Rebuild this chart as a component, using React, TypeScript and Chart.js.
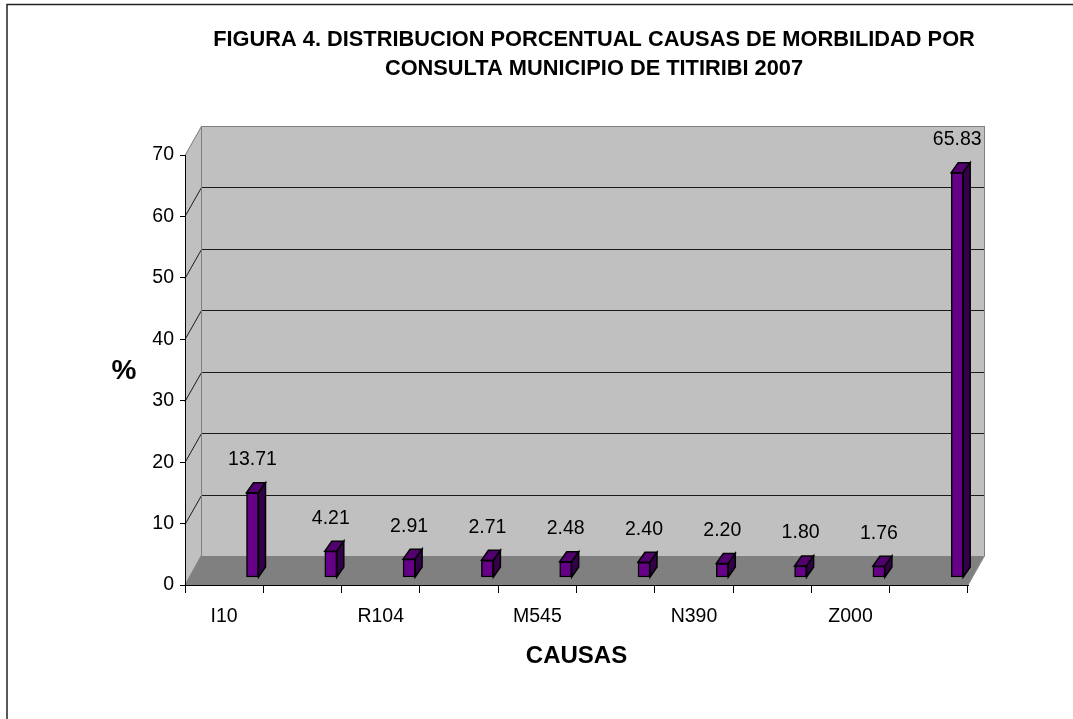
import React, { useEffect, useRef } from 'react';
import { Chart, registerables } from 'chart.js';

Chart.register(...registerables);

// ---- data ----
const categories = ['I10', '', 'R104', '', 'M545', '', 'N390', '', 'Z000', ''];
const values = [13.71, 4.21, 2.91, 2.71, 2.48, 2.4, 2.2, 1.8, 1.76, 65.83];
const yTickMin = 0;
const yTickMax = 70;
const yTickStep = 10;
const titleLines = [
  'FIGURA 4. DISTRIBUCION PORCENTUAL CAUSAS DE MORBILIDAD POR',
  'CONSULTA MUNICIPIO DE TITIRIBI 2007',
];
const xTitle = 'CAUSAS';
const yTitle = '%';

// ---- style ----
const FONT = "'Liberation Sans', Arial, Helvetica, sans-serif";
const DX = 16; // wall depth (px)
const DY = 29;
const BDX = 7; // bar depth (px)
const BDY = 10;
const BAR_FRONT = '#660088';
const BAR_TOP = '#52006E';
const BAR_SIDE = '#34004A';

const wallsPlugin = {
  id: 'walls3d',
  beforeDraw(chart: any) {
    const { ctx, chartArea: a, scales } = chart;
    const ys = scales.y;
    const L = a.left, R = a.right, T = a.top, B = a.bottom;
    ctx.save();
    // outer frame
    ctx.strokeStyle = '#222';
    ctx.lineWidth = 1.5;
    ctx.strokeRect(7, 4.5, chart.width + 100, chart.height + 100);
    // back wall
    ctx.fillStyle = '#C0C0C0';
    ctx.fillRect(L + DX, T - DY, R - L, B - T);
    // left wall
    ctx.beginPath();
    ctx.moveTo(L, T);
    ctx.lineTo(L + DX, T - DY);
    ctx.lineTo(L + DX, B - DY);
    ctx.lineTo(L, B);
    ctx.closePath();
    ctx.fill();
    // floor
    ctx.fillStyle = '#808080';
    ctx.beginPath();
    ctx.moveTo(L, B);
    ctx.lineTo(L + DX, B - DY);
    ctx.lineTo(R + DX, B - DY);
    ctx.lineTo(R, B);
    ctx.closePath();
    ctx.fill();
    // gridlines on walls
    ctx.lineWidth = 1;
    ys.ticks.forEach((t: any) => {
      if (t.value === ys.min) return;
      const py = Math.round(ys.getPixelForValue(t.value)) + 0.5;
      ctx.strokeStyle = t.value === ys.max ? '#808080' : '#1a1a1a';
      ctx.beginPath();
      ctx.moveTo(L, py);
      ctx.lineTo(L + DX + 0.5, py - DY);
      ctx.lineTo(R + DX + 0.5, py - DY);
      ctx.stroke();
    });
    // wall edges
    ctx.strokeStyle = '#808080';
    ctx.beginPath();
    ctx.moveTo(L + DX + 0.5, T - DY);
    ctx.lineTo(L + DX + 0.5, B - DY);
    ctx.moveTo(R + DX + 0.5, T - DY);
    ctx.lineTo(R + DX + 0.5, B - DY);
    ctx.lineTo(R, B);
    ctx.moveTo(L, B);
    ctx.lineTo(L + DX, B - DY);
    ctx.stroke();
    ctx.restore();
  },
};

const bars3dPlugin = {
  id: 'bars3d',
  afterDatasetsDraw(chart: any) {
    const { ctx } = chart;
    const meta = chart.getDatasetMeta(0);
    ctx.save();
    ctx.lineWidth = 1.5;
    ctx.strokeStyle = '#000';
    ctx.lineJoin = 'miter';
    meta.data.forEach((el: any, i: number) => {
      const { x, y, base, width } = el.getProps(['x', 'y', 'base', 'width'], true);
      const x0 = x - width / 2;
      const x1 = x + width / 2;
      // top face
      ctx.fillStyle = BAR_TOP;
      ctx.beginPath();
      ctx.moveTo(x0, y);
      ctx.lineTo(x0 + BDX, y - BDY);
      ctx.lineTo(x1 + BDX, y - BDY);
      ctx.lineTo(x1, y);
      ctx.closePath();
      ctx.fill();
      ctx.stroke();
      // side face
      ctx.fillStyle = BAR_SIDE;
      ctx.beginPath();
      ctx.moveTo(x1, y);
      ctx.lineTo(x1 + BDX, y - BDY);
      ctx.lineTo(x1 + BDX, base - BDY);
      ctx.lineTo(x1, base);
      ctx.closePath();
      ctx.fill();
      ctx.stroke();
      // value label
      ctx.fillStyle = '#000';
      ctx.font = `19.5px ${FONT}`;
      ctx.textAlign = 'center';
      ctx.textBaseline = 'middle';
      ctx.fillText(values[i].toFixed(2), x, y - 33);
    });
    ctx.restore();
  },
  afterDraw(chart: any) {
    const { ctx } = chart;
    ctx.save();
    ctx.fillStyle = '#000';
    ctx.textAlign = 'center';
    ctx.textBaseline = 'alphabetic';
    ctx.font = `bold 21.8px ${FONT}`;
    ctx.fillText(titleLines[0], 594, 46);
    ctx.fillText(titleLines[1], 594, 75);
    ctx.font = `bold 28px ${FONT}`;
    ctx.fillText(yTitle, 124, 379);
    ctx.restore();
  },
};

export default function App() {
  const ref = useRef<HTMLCanvasElement | null>(null);

  useEffect(() => {
    if (!ref.current) return;
    const chart = new Chart(ref.current, {
      type: 'bar',
      data: {
        labels: categories,
        datasets: [
          {
            label: '%',
            data: values.map((v, i) => ({ x: i, y: v })),
            xAxisID: 'xb',
            yAxisID: 'yb',
            backgroundColor: BAR_FRONT,
            borderColor: '#000',
            borderWidth: 1.5,
            borderSkipped: false,
            barThickness: 12,
          } as any,
        ],
      },
      options: {
        responsive: false,
        animation: false,
        events: [],
        layout: { padding: { left: 125, right: 105, top: 155, bottom: 34 } },
        plugins: {
          legend: { display: false },
          tooltip: { enabled: false },
          title: { display: false },
        },
        scales: {
          x: {
            type: 'category',
            position: 'bottom',
            offset: true,
            grid: {
              display: true,
              offset: true,
              drawOnChartArea: false,
              drawTicks: true,
              tickLength: 8,
              color: '#000',
            },
            border: { display: true, color: '#000', width: 1 },
            ticks: {
              autoSkip: false,
              maxRotation: 0,
              color: '#000',
              padding: 12,
              font: { family: FONT, size: 19.5 },
            },
            title: {
              display: true,
              text: xTitle,
              color: '#000',
              font: { family: FONT, size: 24, weight: 'bold' },
              padding: { top: 0, bottom: 14 },
            },
            afterFit: (s: any) => {
              s.height = 100;
            },
          },
          y: {
            type: 'linear',
            position: 'left',
            min: yTickMin,
            max: yTickMax,
            grid: {
              display: true,
              drawOnChartArea: false,
              drawTicks: true,
              tickLength: 5,
              color: '#000',
            },
            border: { display: true, color: '#000', width: 1 },
            ticks: {
              stepSize: yTickStep,
              color: '#000',
              padding: 6,
              font: { family: FONT, size: 19.5 },
            },
            afterFit: (s: any) => {
              s.width = 60;
            },
          },
          xb: {
            type: 'linear',
            display: false,
            offset: false,
            grid: { offset: false },
            min: -0.862,
            max: 9.138,
          },
          yb: {
            type: 'linear',
            display: false,
            min: -1.3,
            max: 68.7,
          },
        },
      } as any,
      plugins: [wallsPlugin, bars3dPlugin],
    });
    return () => chart.destroy();
  }, []);

  return (
    <div
      style={{
        position: 'fixed',
        left: 0,
        top: 0,
        width: 1073,
        height: 719,
        background: '#fff',
      }}
    >
      <canvas ref={ref} width={1073} height={719} style={{ display: 'block' }} />
    </div>
  );
}
